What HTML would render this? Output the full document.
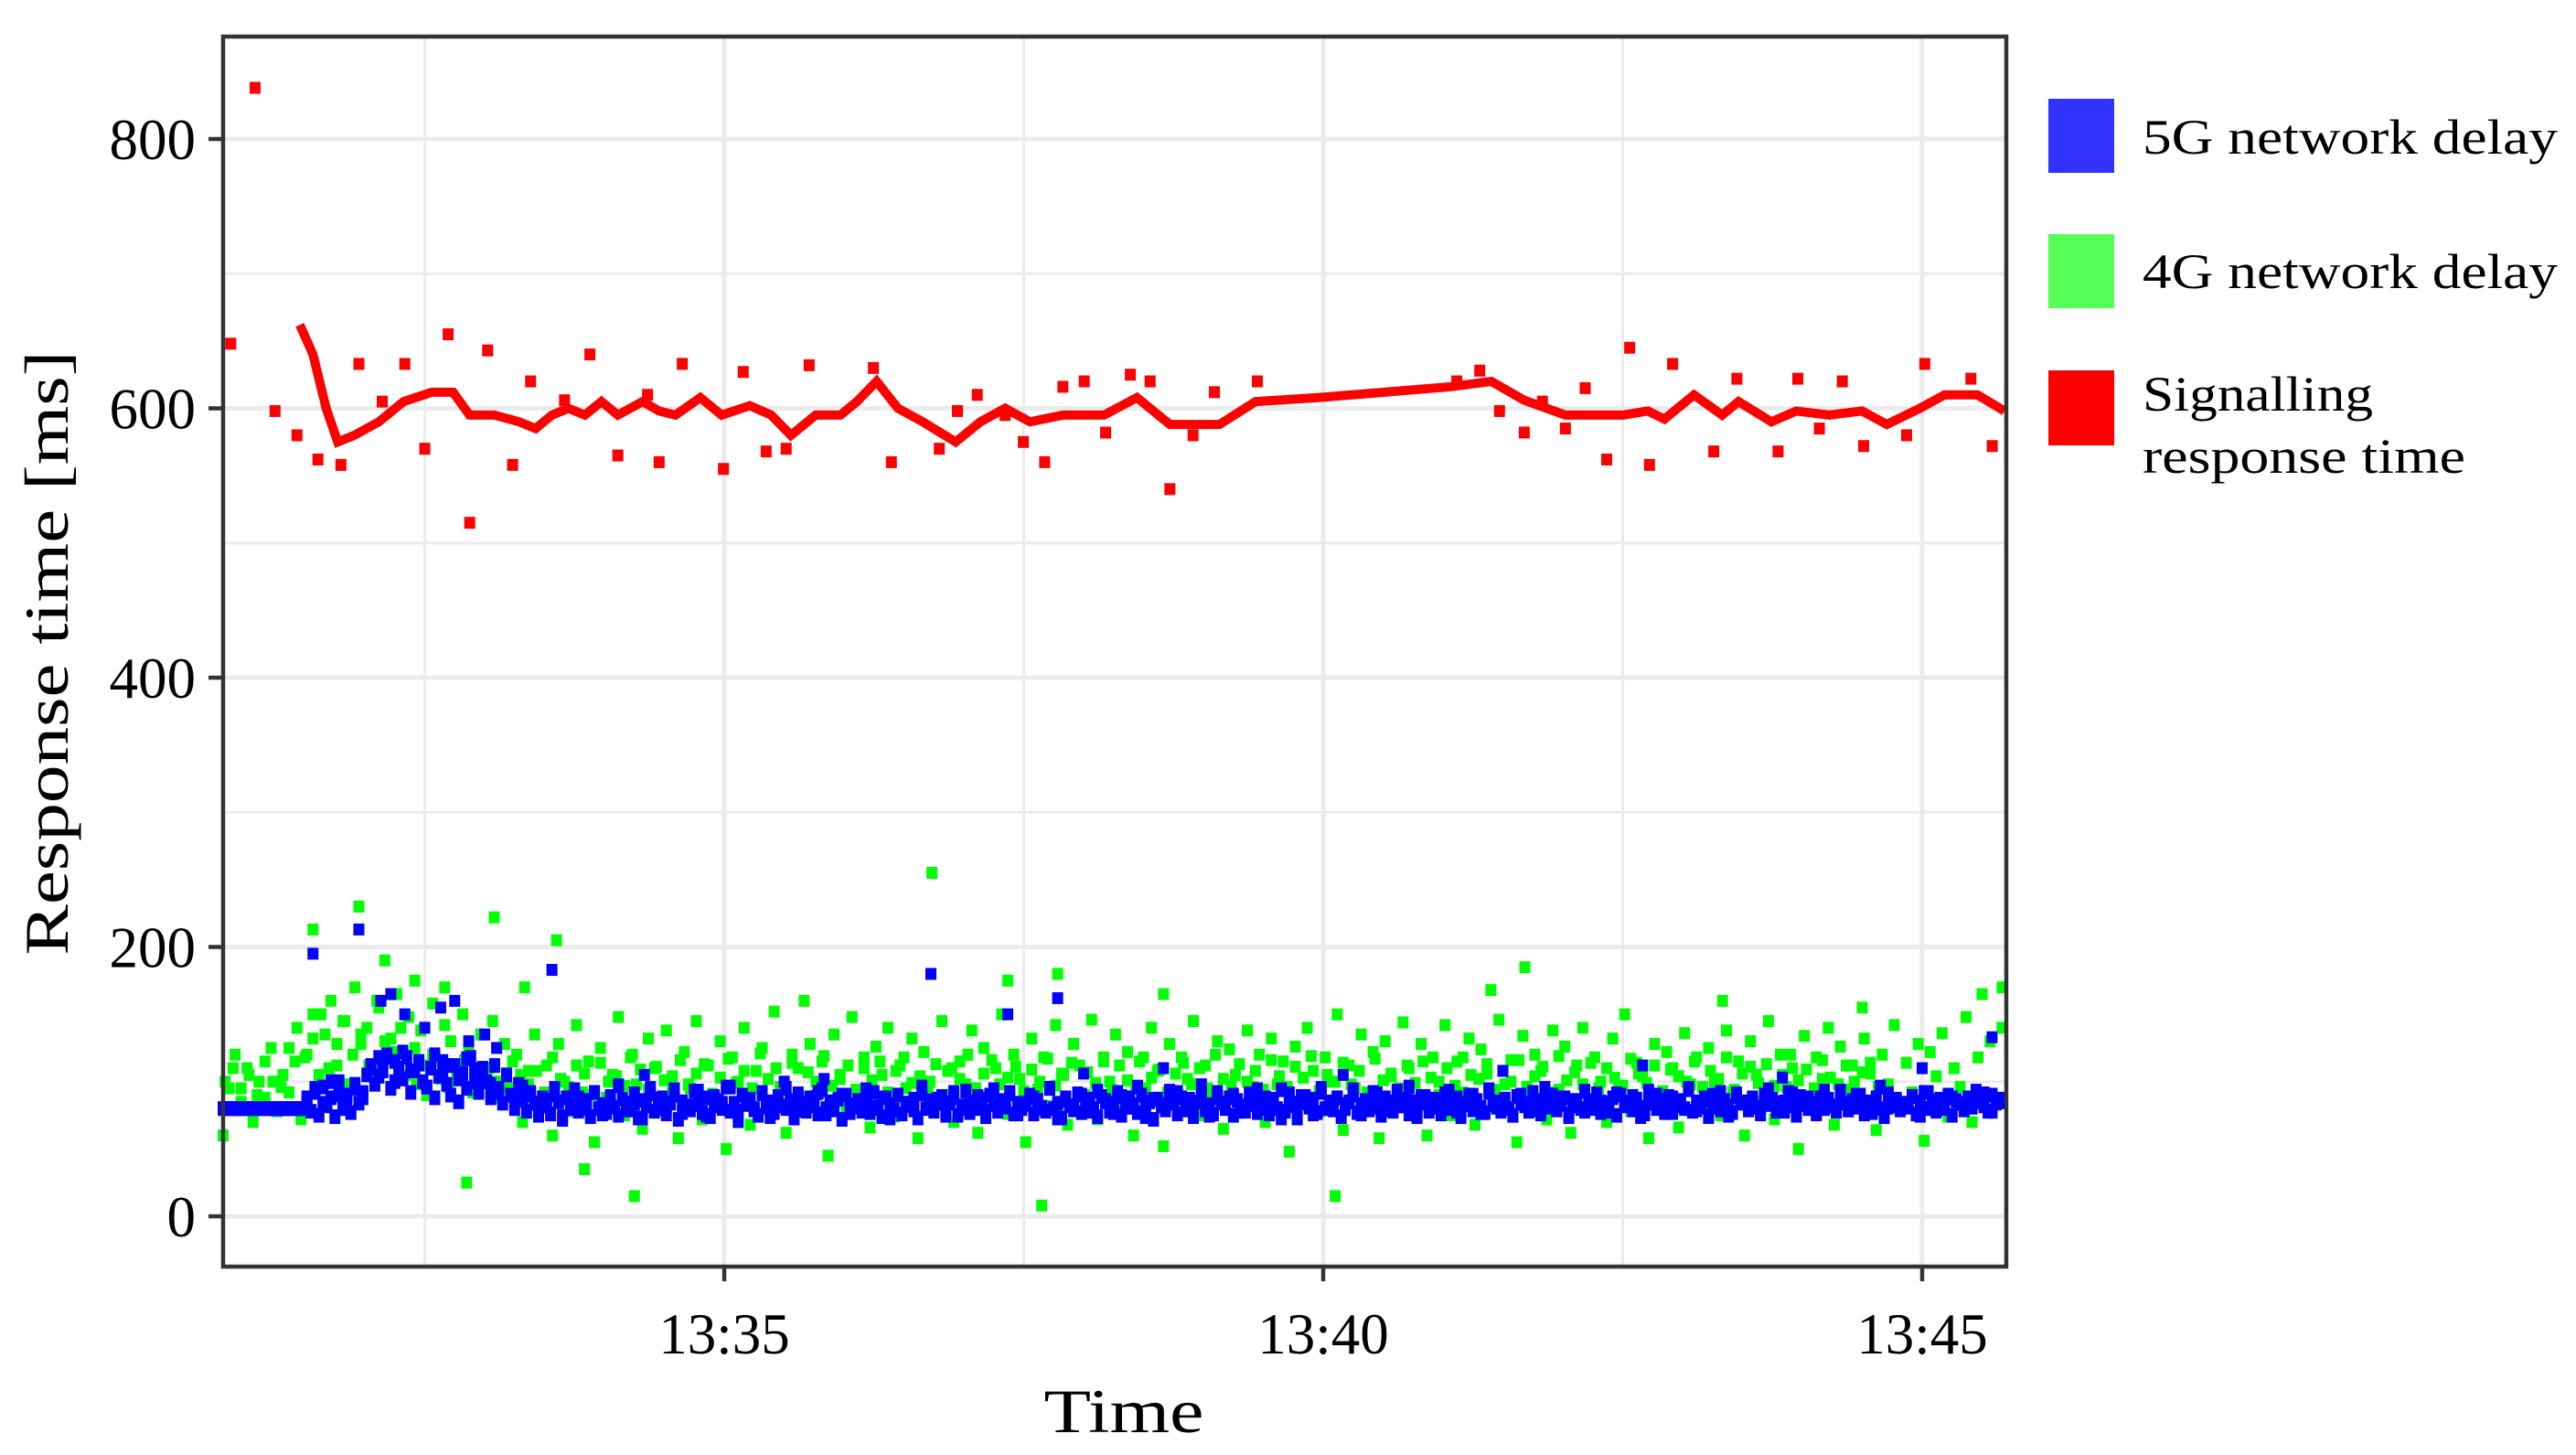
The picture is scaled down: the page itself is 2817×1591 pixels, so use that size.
<!DOCTYPE html>
<html><head><meta charset="utf-8"><style>
html,body{margin:0;padding:0;background:#fff}
svg{display:block;font-family:"Liberation Serif",serif}
</style></head><body>
<svg id="chart" width="2817" height="1591" viewBox="0 0 2817 1591" xmlns="http://www.w3.org/2000/svg">
<rect width="2817" height="1591" fill="#fff"/>
<g id="grid"></g>
<g id="g4"></g>
<g id="g5"></g>
<g id="gr"></g>
<rect x="244" y="40" width="1950" height="1345" fill="none" stroke="#333" stroke-width="4.5"/>
<g id="axes"></g>
<text transform="translate(74,714) rotate(-90)" text-anchor="middle" font-size="68" textLength="661" lengthAdjust="spacingAndGlyphs">Response time [ms]</text>
<text x="1229" y="1566" text-anchor="middle" font-size="68" textLength="175" lengthAdjust="spacingAndGlyphs">Time</text>
<g>
<rect x="2240" y="108" width="72" height="81" fill="#3333ff"/>
<text x="2343" y="168" font-size="54" textLength="454" lengthAdjust="spacingAndGlyphs">5G network delay</text>
<rect x="2240" y="256" width="72" height="81" fill="#55ff55"/>
<text x="2343" y="315" font-size="54" textLength="454" lengthAdjust="spacingAndGlyphs">4G network delay</text>
<rect x="2240" y="405" width="72" height="82" fill="#ff0000"/>
<text x="2343" y="449" font-size="54" textLength="252" lengthAdjust="spacingAndGlyphs">Signalling</text>
<text x="2343" y="517" font-size="54" textLength="353" lengthAdjust="spacingAndGlyphs">response time</text>
</g>
</svg>
<script>
// time in seconds after 13:30:00
const yTicks=[0,200,400,600,800];
const yMinor=[100,300,500,700];
const xTicks=[300,600,900];
const xTickLabels=["13:35","13:40","13:45"];
const xMinor=[150,450,750];
const t5Start=49, t5Step=2;
const delay5G=[80,80,80,80,80,80,80,80,80,80,80,80,80,80,80,80,80,80,80,80,80,
85,78,92,75,96,82,88,74,100,80,90,77,95,84,88,
105,112,98,118,108,120,95,115,110,102,118,92,108,113,100,96,110,88,104,115,98,90,112,85,106,95,118,100,92,110,
100,88,112,95,84,105,90,80,98,86,78,92,84,75,88,
82,76,90,85,72,88,80,94,78,84,86,74,92,80,83,77,89,81,75,87,
84,79,91,73,86,82,95,78,80,88,76,84,90,72,85,81,79,93,83,77,
88,74,82,86,80,96,78,84,71,90,83,87,79,75,92,81,85,77,89,82,
80,86,73,91,84,78,88,82,76,94,80,85,79,87,72,90,83,81,86,78,
85,77,92,80,74,88,83,79,90,76,84,82,87,73,91,80,86,78,84,89,
79,84,88,75,82,93,77,85,80,87,74,90,83,78,86,81,92,76,84,80,
83,90,76,86,81,78,95,80,84,73,88,82,79,91,77,85,87,80,74,89,
86,78,84,92,75,81,88,83,77,90,80,85,72,87,82,79,93,84,76,88,
81,87,74,85,90,79,83,76,92,84,80,88,75,86,82,78,91,83,77,85,
88,76,83,80,94,78,86,82,73,89,84,81,87,77,92,80,85,79,88,74,
80,85,90,77,83,86,79,92,81,75,88,84,78,93,82,87,76,85,80,89,
84,78,87,82,76,91,80,85,88,74,83,90,79,86,81,77,94,83,85,78,
87,80,75,89,84,82,78,92,86,76,85,81,90,79,83,88,74,86,82,80,
78,86,83,91,77,84,80,88,75,90,82,85,79,87,81,76,93,84,80,86,
83,89,77,82,86,80,94,78,85,81,88,74,90,83,79,86,82,77,91,84,
85,79,88,81,76,90,83,87,80,84,78,92,82,75,89,86,80,84,77,88,
80,87,82,78,93,84,79,86,81,90,76,85,83,88,80,74,91,82,86,79,
84,81,89,76,85,92,80,83,78,87,82,90,75,86,84,79,88,81,93,85,
82,78,90,84,87];
const t5bStart=51, t5bStep=4;
const delay5Gb=[80,80,80,80,80,80,80,80,80,80,
88,95,84,100,90,86,98,92,
110,104,118,100,122,108,115,96,120,106,112,102,117,109,100,
98,92,105,90,96,
90,78,86,95,74,83,88,80,92,76,85,97,79,84,73,91,87,81,94,77,
82,93,75,89,84,96,78,86,80,91,74,88,95,83,79,87,92,76,85,90,
77,86,94,81,88,73,90,84,79,96,82,87,75,92,80,85,89,78,94,83,
91,76,84,88,80,95,73,86,82,90,78,93,85,77,89,81,96,74,87,83,
86,92,79,84,97,75,88,82,90,78,85,94,80,87,73,91,84,89,76,95,
80,88,83,94,76,86,91,79,85,82,96,74,89,81,87,93,78,84,90,77,
92,81,87,75,90,84,79,95,82,88,76,86,93,80,85,78,91,83,89,74,
84,90,77,88,82,95,79,86,81,92,75,89,84,87,80,94,78,85,91,83,
88,76,93,82,85,79,90,84,77,96,81,87,83,89,75,92,86,80,88,84,
82,87,91,78,85,80,94,83,76,89,86,81,90,84,79,93,77,88,85,82,
86,80,89,84,92];
const out5GTimes=[94,117,128,133,140,150,158,165,172,180,186,213.7,403.5,442,467,260,330,520,610,690,760,830,900,935,350,480];
const out5GValues=[195,213,160,165,150,140,155,160,130,135,125,183,180,150,162,105,100,110,105,108,112,103,110,133,102,106];
const t4Start=49, t4Step=3;
const delay4G=[60,95,120,85,110,70,100,88,125,78,105,92,115,72,
120,150,105,135,160,112,145,98,170,128,140,108,155,118,132,165,102,148,125,138,90,158,115,142,130,105,150,122,98,135,110,145,88,128,
95,120,70,108,135,85,112,60,128,100,78,142,92,115,55,125,88,105,148,75,118,98,65,132,110,
82,138,104,58,122,95,145,72,112,88,130,50,118,100,140,68,108,125,85,152,96,62,120,110,78,
128,90,115,45,135,102,80,148,92,118,66,126,105,140,74,112,95,132,58,122,100,86,145,108,70,
115,98,138,62,125,88,110,150,76,120,102,55,132,94,118,82,142,106,68,128,112,90,146,72,118,
100,135,80,122,60,115,95,140,108,52,128,88,118,102,145,75,112,92,130,65,124,105,82,138,96,
120,70,132,98,115,48,126,90,140,108,78,118,100,150,64,112,95,135,85,122,58,130,104,88,144,
110,86,128,60,118,100,142,75,115,92,132,68,124,106,80,146,98,116,55,134,90,120,108,72,138,
94,126,62,112,140,85,118,100,70,132,96,150,78,114,104,58,128,90,122,110,66,136,98,118,82,
125,100,75,138,92,115,60,130,105,85,145,72,120,96,110,50,134,88,118,102,140,68,126,94,112,
88,132,106,64,120,98,142,78,114,92,128,56,122,104,136,74,110,96,148,70,118,90,130,84,140];
const t4bStart=50, t4bStep=4;
const delay4Gb=[100,110,95,105,90,115,100,96,
125,140,118,132,150,110,128,145,120,135,112,160,130,122,140,
105,98,112,120,102,96,108,116,92,104,
110,100,95,115,105,98,108,92,118,102,96,112,106,90,114,100,104,97,120,109,94,111,101,93,116,
98,106,113,91,103,117,99,108,95,121,102,110,96,114,89,107,100,119,97,105,112,94,110,101,115,
92,108,118,99,104,96,113,90,110,102,120,95,106,116,98,103,111,93,109,100,117,97,105,114,91,
107,99,115,94,112,101,96,118,103,109,92,106,114,98,110,95,120,102,97,113,100,108,94,116,104,
96,111,103,119,93,105,100,114,98,108,92,117,101,106,95,112,99,115,103,90,110,97,118,105,102,
113,94,108,100,116,96,104,111,92,119,101,107,98,114,95,110,103,97,117,106,99,112,93,109,104,
100,115,96,108,102,118,94,106,111,99,113,97,105,120,101,109,95,116,103,98,112,100,107,114,96];
const out4GTimes=[117,94,184.8,216,404,442,467,701,684,459,606,255,230,171,130,145,160,200,340,520,800,870,930,940];
const out4GValues=[230,213,222,205,255,175,180,185,168,8,15,15,35,25,190,175,170,170,160,165,160,155,165,170];
const redLineTimes=[87.4,94,100.6,106.4,114.7,127,139.4,153.5,164.2,172.4,184.8,197.2,205.5,213.7,222,230.2,238.5,246.7,259.1,267.4,275.6,288,298.7,312.8,323.5,333.4,345.8,358.2,366.4,376.3,387,399.4,415.9,428.3,440.7,453.1,469.6,490.2,506.7,523.2,548,566.1,597.5,630.5,663.5,684.2,700.7,721.3,750.2,762.6,770.9,785.7,799.8,808,824.5,836.9,853.4,869.9,882.3,898.8,911.2,927.7,942.5];
const redLineValues=[662,640,600,575,580,590,605,612,612,595,595,590,585,595,600,595,605,595,605,598,595,608,595,602,595,580,595,595,605,620,600,590,575,590,600,590,595,595,608,588,588,605,608,612,616,620,606,595,595,598,592,610,595,605,590,598,595,598,588,600,610,610,598];
const redOutTimes=[52.8,65,75,86,96.5,108,117,128.7,140,150,161.7,172.5,181.5,194,203,220,232.7,246.7,261.6,267.4,279,299.6,309.5,321,331,342.5,374.7,383.7,407.7,416.8,426.7,440.7,449.8,460.5,469.6,480.3,491,503.4,513.3,523.2,534.8,545.5,567,666.9,678.4,688.3,700.7,709.8,721.3,731.2,742,753.5,763.4,775,795.6,807.2,827.8,837.7,848.5,860,870.7,892.2,901.3,924.4,935.1];
const redOutValues=[648,838,598,580,562,558,633,605,633,570,655,515,643,558,620,606,640,565,610,560,633,555,627,568,570,632,630,560,570,598,610,595,575,560,616,620,582,625,620,540,580,612,620,620,628,598,582,605,585,615,562,645,558,633,568,622,568,622,585,620,572,580,633,622,572];

const X0=244,X1=2194,Y0=40,Y1=1385;
const tMin=49, pxPerSec=655/300;
const xs=t=>X0+(t-tMin)*pxPerSec;
const yv=v=>1330-v*(1178/800);
const NS="http://www.w3.org/2000/svg";
function mk(tag,attrs,parent){const e=document.createElementNS(NS,tag);for(const k in attrs)e.setAttribute(k,attrs[k]);parent.appendChild(e);return e;}
const grid=document.getElementById('grid'),axes=document.getElementById('axes');
yMinor.forEach(v=>{const l=mk('line',{x1:X0,x2:X1,y1:yv(v),y2:yv(v),stroke:'#ebebeb','stroke-width':3},grid);});
xMinor.forEach(t=>{const l=mk('line',{x1:xs(t),x2:xs(t),y1:Y0,y2:Y1,stroke:'#ebebeb','stroke-width':3},grid);});
yTicks.forEach(v=>{const l=mk('line',{x1:X0,x2:X1,y1:yv(v),y2:yv(v),stroke:'#ebebeb','stroke-width':5},grid);
 const tk=mk('line',{x1:X0-16,x2:X0,y1:yv(v),y2:yv(v),stroke:'#333','stroke-width':4.5},axes);
 const tx=mk('text',{x:X0-30,y:yv(v)+22,'text-anchor':'end','font-size':63},axes);tx.textContent=v;});
xTicks.forEach((t,i)=>{const l=mk('line',{x1:xs(t),x2:xs(t),y1:Y0,y2:Y1,stroke:'#ebebeb','stroke-width':5},grid);
 const tk=mk('line',{x1:xs(t),x2:xs(t),y1:Y1,y2:Y1+16,stroke:'#333','stroke-width':4.5},axes);
 const tx=mk('text',{x:xs(t),y:1480,'text-anchor':'middle','font-size':63},axes);tx.textContent=xTickLabels[i];});
function pts(times,vals,col,g,name,w,h){for(let i=0;i<vals.length;i++){const x=xs(times(i)),y=yv(vals[i]);if(x<X0||x>X1)continue;const r=mk('rect',{x:x-w/2,y:y-h/2,width:w,height:h,fill:col},g);}}
const g4=document.getElementById('g4'),g5=document.getElementById('g5'),gr=document.getElementById('gr');
pts(i=>t4Start+i*t4Step,delay4G,'#00ff00',g4,'point-4g',12,13);
pts(i=>t4bStart+i*t4bStep,delay4Gb,'#00ff00',g4,'point-4g',12,13);
pts(i=>out4GTimes[i],out4GValues,'#00ff00',g4,'point-4g-outlier',12,13);
pts(i=>t5Start+i*t5Step,delay5G,'#0000ff',g5,'point-5g',12,16);
pts(i=>t5bStart+i*t5bStep,delay5Gb,'#0000ff',g5,'point-5g',12,16);
pts(i=>out5GTimes[i],out5GValues,'#0000ff',g5,'point-5g-outlier',12,13);
const rl=mk('polyline',{points:redLineTimes.map((t,i)=>Math.min(xs(t),X1-2)+','+yv(redLineValues[i])).join(' '),fill:'none',stroke:'#ff0000','stroke-width':10,'stroke-linejoin':'miter'},gr);


pts(i=>redOutTimes[i],redOutValues,'#ff0000',gr,'point-signalling-outlier',12,13);
</script>
</body></html>
